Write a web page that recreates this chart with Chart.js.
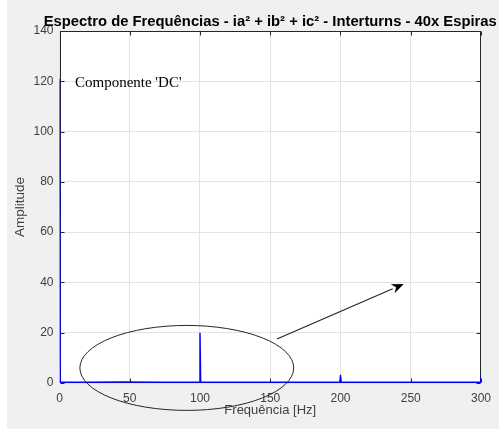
<!DOCTYPE html>
<html>
<head>
<meta charset="utf-8">
<script src="https://cdn.jsdelivr.net/npm/chart.js@4"></script>
<style>
  html, body { margin: 0; padding: 0; background: #f0f0f0; }
  canvas { display: block; }
</style>
</head>
<body>
<canvas id="spectrum" width="499" height="429"></canvas>
<script>
// Texts
const chartTitle = 'Espectro de Frequências - ia² + ib² + ic² - Interturns - 40x Espiras';
const xAxisTitle = 'Frequência [Hz]';
const yAxisTitle = 'Amplitude';
const dcLabel = "Componente 'DC'";

// Spectrum of ia^2 + ib^2 + ic^2 (frequency in Hz, amplitude)
const freqHz    = [0,   0.5, 20,  45,  70,  99.5, 100, 100.5, 130, 170, 199.5, 200, 200.5, 230, 270, 299.5, 300];
const amplitude = [121, 0.3, 0.3, 0.4, 0.3, 0.3,  20,  0.3,   0.3, 0.3, 0.3,   3.3, 0.3,   0.3, 0.3, 0.3,   3.3];

// Axis ticks
const xTicks = [0, 50, 100, 150, 200, 250, 300];
const yTicks = [0, 20, 40, 60, 80, 100, 120, 140];

// Annotation anchors, in data units (Hz, amplitude)
const dcLabelAt = { x: 11, y: 117.7 };
const ellipseAt = { x: 90.6, y: 6, rx: 76.1, ry: 16.9 };
const arrowFrom = { x: 154.8, y: 17.5 };
const arrowTo   = { x: 245, y: 39.4 };

const axisColor = '#262626';
const labelColor = '#404040';

const points = freqHz.map((f, i) => ({ x: f, y: amplitude[i] }));

// Figure background, white axes, boxed frame with inward ticks, title and annotations
const matlabLook = {
  id: 'matlabLook',
  beforeDraw(chart) {
    const { ctx, chartArea: a } = chart;
    ctx.save();
    ctx.fillStyle = '#f0f0f0';
    ctx.fillRect(0, 0, chart.width, chart.height);
    ctx.fillStyle = '#ffffff';
    ctx.fillRect(0, 0, 7, chart.height);
    ctx.fillRect(a.left, a.top, a.right - a.left, a.bottom - a.top);
    ctx.restore();
  },
  beforeDatasetsDraw(chart) {
    const { ctx, chartArea: a, scales: { x, y } } = chart;
    const L = Math.round(a.left) + 0.5, R = Math.round(a.right) - 0.5;
    const T = Math.round(a.top) + 0.5, B = Math.round(a.bottom) - 0.5;
    ctx.save();
    ctx.strokeStyle = axisColor;
    ctx.lineWidth = 1;
    ctx.strokeRect(L, T, R - L, B - T);
    const tl = 4;
    ctx.beginPath();
    xTicks.forEach(v => {
      const px = Math.round(x.getPixelForValue(v)) + 0.5;
      ctx.moveTo(px, B); ctx.lineTo(px, B - tl);
      ctx.moveTo(px, T); ctx.lineTo(px, T + tl);
    });
    yTicks.forEach(v => {
      const py = Math.round(y.getPixelForValue(v)) + 0.5;
      ctx.moveTo(L, py); ctx.lineTo(L + tl, py);
      ctx.moveTo(R, py); ctx.lineTo(R - tl, py);
    });
    ctx.stroke();
    ctx.restore();
  },
  afterDraw(chart) {
    const { ctx, chartArea: a, scales: { x, y } } = chart;
    ctx.save();
    // title
    ctx.fillStyle = '#000000';
    ctx.font = 'bold 14.8px "Liberation Sans", Arial, sans-serif';
    ctx.textAlign = 'center';
    ctx.textBaseline = 'alphabetic';
    ctx.fillText(chartTitle, (a.left + a.right) / 2, 26);

    // DC component label
    ctx.font = '15px "Liberation Serif", "Times New Roman", serif';
    ctx.textAlign = 'left';
    ctx.fillText(dcLabel, x.getPixelForValue(dcLabelAt.x), y.getPixelForValue(dcLabelAt.y));

    // ellipse around the harmonic region
    const cx = x.getPixelForValue(ellipseAt.x), cy = y.getPixelForValue(ellipseAt.y);
    const rx = x.getPixelForValue(ellipseAt.x + ellipseAt.rx) - cx;
    const ry = cy - y.getPixelForValue(ellipseAt.y + ellipseAt.ry);
    ctx.strokeStyle = '#262626';
    ctx.lineWidth = 1;
    ctx.beginPath();
    ctx.ellipse(cx, cy, rx, ry, 0, 0, Math.PI * 2);
    ctx.stroke();

    // arrow
    const x0 = x.getPixelForValue(arrowFrom.x), y0 = y.getPixelForValue(arrowFrom.y);
    const x1 = x.getPixelForValue(arrowTo.x), y1 = y.getPixelForValue(arrowTo.y);
    const ang = Math.atan2(y1 - y0, x1 - x0);
    const hl = 12, hw = 5;
    const bx = x1 - hl * Math.cos(ang), by = y1 - hl * Math.sin(ang);
    ctx.lineWidth = 1.2;
    ctx.beginPath();
    ctx.moveTo(x0, y0);
    ctx.lineTo(bx, by);
    ctx.stroke();
    ctx.fillStyle = '#000000';
    ctx.beginPath();
    ctx.moveTo(x1, y1);
    ctx.lineTo(bx + hw * Math.sin(ang), by - hw * Math.cos(ang));
    ctx.lineTo(x1 - (hl * 0.7) * Math.cos(ang), y1 - (hl * 0.7) * Math.sin(ang));
    ctx.lineTo(bx - hw * Math.sin(ang), by + hw * Math.cos(ang));
    ctx.closePath();
    ctx.fill();
    ctx.restore();
  }
};

new Chart(document.getElementById('spectrum'), {
  type: 'line',
  data: {
    datasets: [{
      data: points,
      borderColor: '#0000ff',
      borderWidth: 1.4,
      pointRadius: 0,
      tension: 0,
      fill: false
    }]
  },
  options: {
    responsive: false,
    animation: false,
    events: [],
    layout: { padding: { top: 31, right: 15.5, left: 0, bottom: 0 } },
    plugins: { legend: { display: false }, tooltip: { enabled: false }, title: { display: false } },
    scales: {
      x: {
        type: 'linear',
        min: 0, max: 300,
        afterBuildTicks: s => { s.ticks = xTicks.map(v => ({ value: v })); },
        afterFit: s => { s.height = 46; },
        grid: { color: '#e3e3e3', lineWidth: 1, drawTicks: false },
        border: { display: false },
        ticks: { autoSkip: false, maxRotation: 0, padding: 8, color: labelColor,
                 font: { family: '"Liberation Sans", Arial, sans-serif', size: 12 } },
        title: { display: true, text: xAxisTitle, color: labelColor, padding: { top: 0, bottom: 11 },
                 font: { family: '"Liberation Sans", Arial, sans-serif', size: 13 } }
      },
      y: {
        type: 'linear',
        min: 0, max: 140,
        afterBuildTicks: s => { s.ticks = yTicks.map(v => ({ value: v })); },
        afterFit: s => { s.width = 59.5; },
        grid: { color: '#e3e3e3', lineWidth: 1, drawTicks: false },
        border: { display: false },
        ticks: { autoSkip: false, padding: 6, color: labelColor,
                 font: { family: '"Liberation Sans", Arial, sans-serif', size: 12 } },
        title: { display: true, text: yAxisTitle, color: labelColor, padding: { top: 12, bottom: 0 },
                 font: { family: '"Liberation Sans", Arial, sans-serif', size: 13.5 } }
      }
    }
  },
  plugins: [matlabLook]
});
</script>
</body>
</html>
